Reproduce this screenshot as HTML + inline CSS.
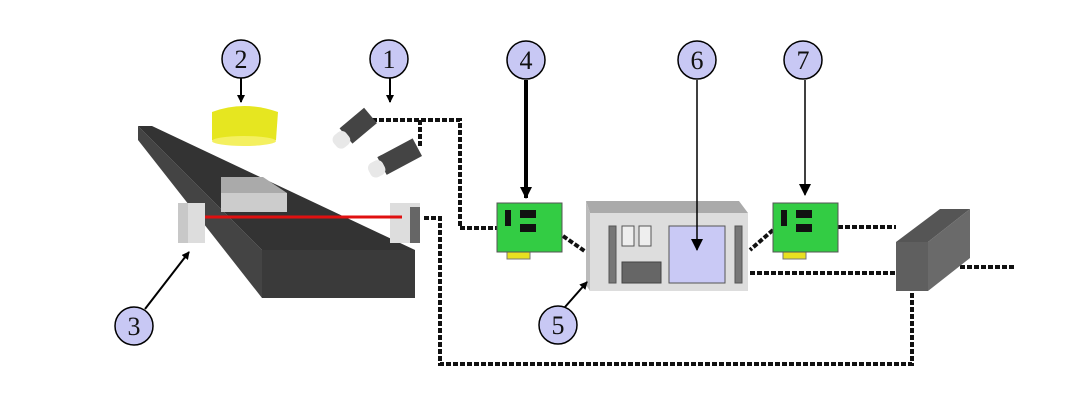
<!DOCTYPE html>
<html><head><meta charset="utf-8"><style>html,body{margin:0;padding:0;background:#fff;}svg{display:block}</style></head>
<body>
<svg width="1076" height="405" viewBox="0 0 1076 405" xmlns="http://www.w3.org/2000/svg" font-family="Liberation Serif, serif">
<defs>
<marker id="ah" markerWidth="8" markerHeight="8" refX="7" refY="4" orient="auto" markerUnits="userSpaceOnUse"><path d="M0,0 L8,4 L0,8 z" fill="#000"/></marker>
<marker id="ahb" markerWidth="12" markerHeight="12" refX="11" refY="6" orient="auto" markerUnits="userSpaceOnUse"><path d="M0,0 L12,6 L0,12 z" fill="#000"/></marker>
</defs>
<g stroke="#111" stroke-width="4" stroke-dasharray="5,2" fill="none">
<path d="M372,120 H460 V228 H497"/>
<path d="M420,120 V148"/>
<path d="M424,218 H440 V364 H912 V292"/>
<path d="M563,236 L586,252"/>
<path d="M773,230 L750,250"/>
<path d="M838,227 H896"/>
<path d="M750,273 H896"/>
<path d="M960,267 H1016"/>
</g>
<polygon points="138,126 262,250 262,298 138,140" fill="#444"/>
<polygon points="138,126 152,126 415,250 262,250" fill="#333"/>
<rect x="262" y="250" width="153" height="48" fill="#3a3a3a"/>
<polygon points="221,177 263,177 287,193 221,193" fill="#aaa"/>
<rect x="221" y="193" width="66" height="19" fill="#ccc"/>
<rect x="178" y="203" width="27" height="40" fill="#ddd"/>
<rect x="178" y="203" width="10" height="40" fill="#c8c8c8"/>
<rect x="390" y="203" width="30" height="40" fill="#ddd"/>
<rect x="410" y="207" width="10" height="36" fill="#666"/>
<line x1="205" y1="217" x2="402" y2="217" stroke="#e01010" stroke-width="3"/>
<path d="M212,112 Q244,100 278,112 L276,140 Q244,150 212,140 Z" fill="#e6e620"/>
<ellipse cx="244" cy="141" rx="32" ry="5" fill="#f4f060"/>
<g transform="translate(346,136) rotate(-40)"><rect x="0" y="-10" width="32" height="20" fill="#444"/><rect x="-14" y="-8" width="16" height="16" rx="6" fill="#e8e8e8"/></g>
<g transform="translate(382,166) rotate(-28)"><rect x="0" y="-10" width="40" height="20" fill="#444"/><rect x="-14" y="-8" width="16" height="16" rx="6" fill="#e8e8e8"/></g>
<rect x="507" y="251" width="23" height="8" fill="#e8e020" stroke="#777"/>
<rect x="497" y="203" width="65" height="49" fill="#33cc44" stroke="#555"/>
<rect x="505" y="210" width="6" height="16" fill="#111"/><rect x="520" y="210" width="16" height="8" fill="#111"/><rect x="520" y="224" width="16" height="8" fill="#111"/>
<rect x="783" y="251" width="23" height="8" fill="#e8e020" stroke="#777"/>
<rect x="773" y="203" width="65" height="49" fill="#33cc44" stroke="#555"/>
<rect x="781" y="210" width="6" height="16" fill="#111"/><rect x="796" y="210" width="16" height="8" fill="#111"/><rect x="796" y="224" width="16" height="8" fill="#111"/>
<polygon points="586,201 739,201 748,213 590,213" fill="#aaa"/>
<polygon points="586,201 590,213 590,291 586,285" fill="#bbb"/>
<rect x="590" y="213" width="158" height="78" fill="#ddd"/>
<rect x="609" y="226" width="7" height="57" fill="#777" stroke="#555"/>
<rect x="622" y="226" width="12" height="20" fill="#eee" stroke="#555"/>
<rect x="639" y="226" width="12" height="20" fill="#eee" stroke="#555"/>
<rect x="622" y="262" width="39" height="21" fill="#666" stroke="#444"/>
<rect x="669" y="226" width="56" height="57" fill="#c9c9f5" stroke="#555"/>
<rect x="735" y="226" width="7" height="57" fill="#777" stroke="#555"/>
<polygon points="896,242 940,209 970,209 928,242" fill="#555"/>
<polygon points="928,242 970,209 970,258 928,291" fill="#6a6a6a"/>
<rect x="896" y="242" width="32" height="49" fill="#5f5f5f"/>
<g stroke="#000" fill="none">
<line x1="241" y1="78" x2="241" y2="102" stroke-width="2" marker-end="url(#ah)"/>
<line x1="390" y1="78" x2="390" y2="102" stroke-width="2" marker-end="url(#ah)"/>
<line x1="526" y1="80" x2="526" y2="198" stroke-width="4" marker-end="url(#ahb)"/>
<line x1="697" y1="80" x2="697" y2="250" stroke-width="1.5" marker-end="url(#ahb)"/>
<line x1="805" y1="80" x2="805" y2="195" stroke-width="1.5" marker-end="url(#ahb)"/>
<line x1="145" y1="309" x2="189" y2="252" stroke-width="2" marker-end="url(#ah)"/>
<line x1="565" y1="307" x2="587" y2="282" stroke-width="2" marker-end="url(#ah)"/>
</g>
<g fill="#c8c8f4" stroke="#000" stroke-width="1.5">
<circle cx="241" cy="59" r="19"/><circle cx="389" cy="59" r="19"/><circle cx="134" cy="326" r="19"/>
<circle cx="526" cy="60" r="19"/><circle cx="697" cy="60" r="19"/><circle cx="803" cy="60" r="19"/><circle cx="558" cy="325" r="19"/>
</g>
<g font-size="26" text-anchor="middle" fill="#111">
<text x="241" y="68">2</text><text x="389" y="68">1</text><text x="134" y="335">3</text>
<text x="526" y="69">4</text><text x="697" y="69">6</text><text x="803" y="69">7</text><text x="558" y="334">5</text>
</g>
</svg>
</body></html>
